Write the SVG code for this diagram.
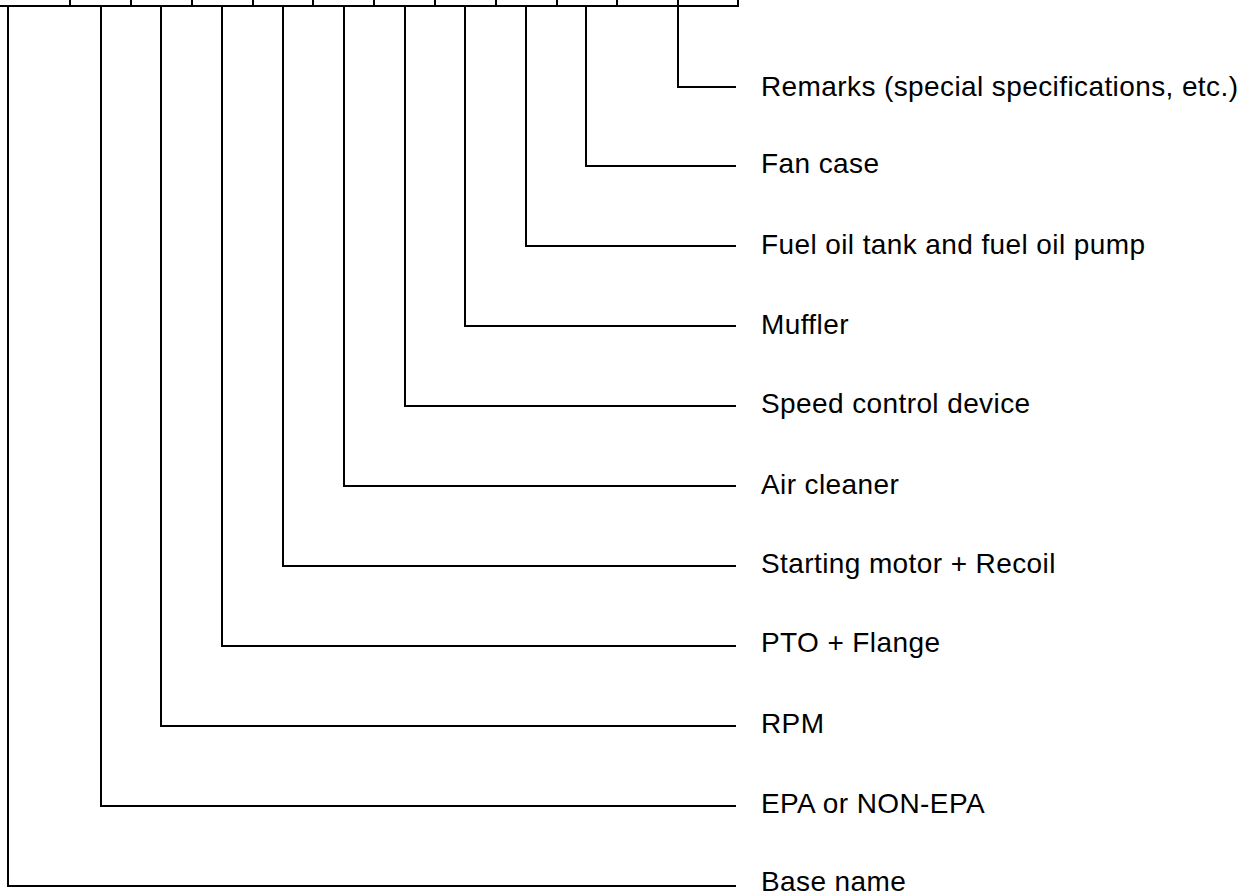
<svg xmlns="http://www.w3.org/2000/svg" width="1246" height="893" viewBox="0 0 1246 893">
<style>
.ln{fill:none;stroke:#000;stroke-width:2;stroke-linecap:square}
.t{font-family:"Liberation Sans",Arial,sans-serif;font-size:28px;letter-spacing:0.4px;fill:#000}
</style>
<rect width="1246" height="893" fill="#fff"/>
<g id="header" class="ln">
<path d="M0 6H738V0"/>
<path d="M70 0V6M131 0V6M192 0V6M253 0V6M313 0V6M374 0V6M435 0V6M496 0V6M557 0V6M617 0V6M678 0V6"/>
</g>
<g id="connectors" class="ln">
<path d="M678 6V87H735"/>
<path d="M586 6V166H735"/>
<path d="M526 6V246H735"/>
<path d="M465 6V326H735"/>
<path d="M405 6V406H735"/>
<path d="M344 6V486H735"/>
<path d="M283 6V566H735"/>
<path d="M222 6V646H735"/>
<path d="M161 6V726H735"/>
<path d="M101 6V806H735"/>
<path d="M8 6V886H735"/>
</g>
<g id="remarks"><text class="t" x="761" y="96">Remarks (special specifications, etc.)</text></g>
<g id="fan-case"><text class="t" x="761" y="173">Fan case</text></g>
<g id="fuel"><text class="t" x="761" y="254">Fuel oil tank and fuel oil pump</text></g>
<g id="muffler"><text class="t" x="761" y="334">Muffler</text></g>
<g id="speed"><text class="t" x="761" y="413">Speed control device</text></g>
<g id="air"><text class="t" x="761" y="494">Air cleaner</text></g>
<g id="starting"><text class="t" x="761" y="573">Starting motor + Recoil</text></g>
<g id="pto"><text class="t" x="761" y="652">PTO + Flange</text></g>
<g id="rpm"><text class="t" x="761" y="733">RPM</text></g>
<g id="epa"><text class="t" x="761" y="813">EPA or NON-EPA</text></g>
<g id="base"><text class="t" x="761" y="891">Base name</text></g>
</svg>
